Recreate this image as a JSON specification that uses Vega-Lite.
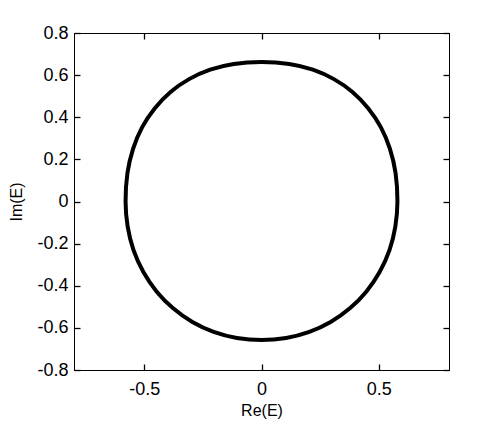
{
  "$schema": "https://vega.github.io/schema/vega-lite/v6.json",
  "autosize": "none",
  "width": 375,
  "height": 337,
  "padding": {"left": 74, "top": 33, "right": 47, "bottom": 56},
  "background": "white",
  "config": {
    "view": {"stroke": "black", "strokeWidth": 1},
    "axis": {
      "grid": false,
      "ticks": true,
      "zindex": 1,
      "domainColor": "black",
      "domainWidth": 1,
      "tickColor": "black",
      "tickWidth": 1.3,
      "tickSize": -6,
      "tickOpacity": 1,
      "labelFont": "Liberation Sans",
      "labelFontSize": 18,
      "labelColor": "black",
      "titleFont": "Liberation Sans",
      "titleFontSize": 16,
      "titleFontWeight": "normal",
      "titleColor": "black"
    }
  },
  "data": {
    "values": [
      {"i": 0, "re": 0, "im": 0.662},
      {"i": 1, "re": 0.118, "im": 0.653},
      {"i": 2, "re": 0.219, "im": 0.626},
      {"i": 3, "re": 0.309, "im": 0.581},
      {"i": 4, "re": 0.388, "im": 0.52},
      {"i": 5, "re": 0.455, "im": 0.443},
      {"i": 6, "re": 0.509, "im": 0.353},
      {"i": 7, "re": 0.548, "im": 0.25},
      {"i": 8, "re": 0.572, "im": 0.135},
      {"i": 9, "re": 0.58, "im": 0},
      {"i": 10, "re": 0.571, "im": -0.119},
      {"i": 11, "re": 0.546, "im": -0.231},
      {"i": 12, "re": 0.504, "im": -0.335},
      {"i": 13, "re": 0.447, "im": -0.428},
      {"i": 14, "re": 0.377, "im": -0.507},
      {"i": 15, "re": 0.295, "im": -0.572},
      {"i": 16, "re": 0.204, "im": -0.619},
      {"i": 17, "re": 0.105, "im": -0.648},
      {"i": 18, "re": 0, "im": -0.658},
      {"i": 19, "re": -0.105, "im": -0.648},
      {"i": 20, "re": -0.204, "im": -0.619},
      {"i": 21, "re": -0.295, "im": -0.572},
      {"i": 22, "re": -0.377, "im": -0.507},
      {"i": 23, "re": -0.447, "im": -0.428},
      {"i": 24, "re": -0.504, "im": -0.335},
      {"i": 25, "re": -0.546, "im": -0.231},
      {"i": 26, "re": -0.571, "im": -0.119},
      {"i": 27, "re": -0.58, "im": 0},
      {"i": 28, "re": -0.572, "im": 0.135},
      {"i": 29, "re": -0.548, "im": 0.25},
      {"i": 30, "re": -0.509, "im": 0.353},
      {"i": 31, "re": -0.455, "im": 0.443},
      {"i": 32, "re": -0.388, "im": 0.52},
      {"i": 33, "re": -0.309, "im": 0.581},
      {"i": 34, "re": -0.219, "im": 0.626},
      {"i": 35, "re": -0.118, "im": 0.653}
    ]
  },
  "layer": [
    {
      "mark": {"type": "line", "color": "black", "strokeWidth": 4, "interpolate": "cardinal-closed"},
      "encoding": {
        "x": {
          "field": "re", "type": "quantitative",
          "scale": {"domain": [-0.8, 0.8], "nice": false, "zero": false},
          "axis": {"orient": "bottom", "title": "Re(E)", "values": [-0.5, 0, 0.5], "labelExpr": "'' + datum.value", "labelPadding": 16, "titlePadding": 4}
        },
        "y": {
          "field": "im", "type": "quantitative",
          "scale": {"domain": [-0.8, 0.8], "nice": false, "zero": false},
          "axis": {"orient": "left", "title": "Im(E)", "values": [-0.8, -0.6, -0.4, -0.2, 0, 0.2, 0.4, 0.6, 0.8], "labelExpr": "'' + datum.value", "labelPadding": 12, "titlePadding": 12}
        },
        "order": {"field": "i", "type": "quantitative"}
      }
    },
    {
      "mark": {"type": "line", "color": "black", "strokeWidth": 4, "strokeOpacity": 0, "interpolate": "cardinal-closed"},
      "encoding": {
        "x": {
          "field": "re", "type": "quantitative",
          "scale": {"domain": [-0.8, 0.8], "nice": false, "zero": false},
          "axis": {"orient": "top", "title": null, "values": [-0.5, 0, 0.5], "labels": false}
        },
        "y": {
          "field": "im", "type": "quantitative",
          "scale": {"domain": [-0.8, 0.8], "nice": false, "zero": false},
          "axis": {"orient": "right", "title": null, "values": [-0.8, -0.6, -0.4, -0.2, 0, 0.2, 0.4, 0.6, 0.8], "labels": false}
        },
        "order": {"field": "i", "type": "quantitative"}
      }
    }
  ],
  "resolve": {"axis": {"x": "independent", "y": "independent"}}
}
